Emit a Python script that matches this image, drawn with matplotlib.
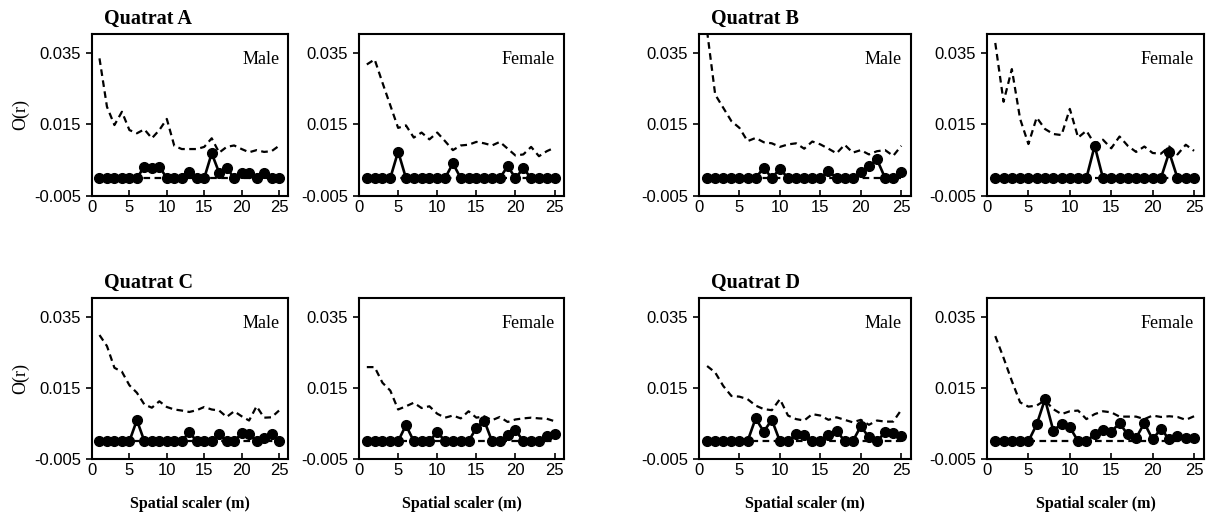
import numpy as np
import matplotlib.pyplot as plt

# spatial scale r (m)
r = np.arange(1, 26)

# observed O(r) (solid line with dots) and upper envelope (dashed)
a_male_obs = [0, 0, 0, 0, 0, 0, 0.0032, 0.0027, 0.0032, 0, 0, 0, 0.0016, 0, 0,
              0.0069, 0.0015, 0.0029, 0, 0.0013, 0.0013, 0, 0.0013, 0, 0]
a_male_up = [0.0334, 0.0199, 0.0148, 0.0185, 0.0134, 0.0125, 0.0136, 0.0111, 0.0134,
             0.0165, 0.0090, 0.0081, 0.0081, 0.0081, 0.0087, 0.0111, 0.0071, 0.0087,
             0.0091, 0.0081, 0.0072, 0.0078, 0.0073, 0.0075, 0.0090]
a_female_obs = [0, 0, 0, 0, 0.0074, 0, 0, 0, 0, 0, 0, 0.0041, 0, 0, 0, 0, 0, 0,
                0.0033, 0, 0.0027, 0, 0, 0, 0]
a_female_up = [0.0317, 0.0331, 0.0266, 0.0203, 0.0140, 0.0147, 0.0113, 0.0127, 0.0108,
               0.0127, 0.0103, 0.0078, 0.0091, 0.0093, 0.0101, 0.0097, 0.0091, 0.0101,
               0.0082, 0.0063, 0.0066, 0.0087, 0.0061, 0.0075, 0.0085]
b_male_obs = [0, 0, 0, 0, 0, 0, 0, 0.0029, 0, 0.0026, 0, 0, 0, 0, 0, 0.0020, 0, 0,
              0, 0.0017, 0.0033, 0.0052, 0, 0, 0.0018]
b_male_up = [0.0410, 0.0233, 0.0196, 0.0159, 0.0140, 0.0103, 0.0112, 0.0100, 0.0097,
             0.0087, 0.0094, 0.0097, 0.0082, 0.0102, 0.0094, 0.0082, 0.0069, 0.0093,
             0.0071, 0.0078, 0.0066, 0.0075, 0.0078, 0.0062, 0.0090]
b_female_obs = [0, 0, 0, 0, 0, 0, 0, 0, 0, 0, 0, 0, 0.0090, 0, 0, 0, 0, 0, 0, 0, 0,
                0.0072, 0, 0, 0]
b_female_up = [0.0377, 0.0213, 0.0304, 0.0165, 0.0095, 0.0169, 0.0137, 0.0123, 0.0120,
               0.0193, 0.0113, 0.0132, 0.0095, 0.0107, 0.0083, 0.0116, 0.0090, 0.0073,
               0.0088, 0.0070, 0.0068, 0.0088, 0.0066, 0.0093, 0.0076]
c_male_obs = [0, 0, 0, 0, 0, 0.0059, 0, 0, 0, 0, 0, 0, 0.0025, 0, 0, 0, 0.0019, 0,
              0, 0.0022, 0.0019, 0, 0.0009, 0.0019, 0]
c_male_up = [0.0298, 0.0267, 0.0206, 0.0195, 0.0157, 0.0136, 0.0103, 0.0094, 0.0112,
             0.0096, 0.0089, 0.0086, 0.0082, 0.0087, 0.0096, 0.0089, 0.0086, 0.0068,
             0.0084, 0.0070, 0.0058, 0.0098, 0.0066, 0.0067, 0.0086]
c_female_obs = [0, 0, 0, 0, 0, 0.0045, 0, 0, 0, 0.0026, 0, 0, 0, 0, 0.0037, 0.0058,
                0, 0, 0.0016, 0.0031, 0, 0, 0, 0.0014, 0.0020]
c_female_up = [0.0208, 0.0208, 0.0164, 0.0142, 0.0089, 0.0098, 0.0108, 0.0093, 0.0098,
               0.0077, 0.0066, 0.0072, 0.0064, 0.0084, 0.0066, 0.0070, 0.0059, 0.0068,
               0.0054, 0.0061, 0.0064, 0.0066, 0.0064, 0.0063, 0.0056]
d_male_obs = [0, 0, 0, 0, 0, 0, 0.0064, 0.0027, 0.0060, 0, 0, 0.0019, 0.0018, 0, 0,
              0.0018, 0.0030, 0, 0, 0.0042, 0.0011, 0, 0.0025, 0.0022, 0.0015]
d_male_up = [0.0211, 0.0193, 0.0155, 0.0127, 0.0125, 0.0118, 0.0100, 0.0090, 0.0087,
             0.0118, 0.0072, 0.0062, 0.0058, 0.0076, 0.0072, 0.0060, 0.0067, 0.0060,
             0.0053, 0.0060, 0.0046, 0.0058, 0.0055, 0.0055, 0.0088]
d_female_obs = [0, 0, 0, 0, 0, 0.0047, 0.0118, 0.0030, 0.0048, 0.0039, 0, 0, 0.0019,
                0.0032, 0.0027, 0.0050, 0.0019, 0.0009, 0.0051, 0.0005, 0.0035, 0.0005,
                0.0015, 0.0010, 0.0010]
d_female_up = [0.0295, 0.0234, 0.0169, 0.0109, 0.0097, 0.0100, 0.0115, 0.0090, 0.0076,
               0.0084, 0.0086, 0.0062, 0.0076, 0.0084, 0.0081, 0.0069, 0.0069, 0.0069,
               0.0062, 0.0072, 0.0068, 0.0070, 0.0068, 0.0060, 0.0070]
# lower envelope (dashed, at zero)
lower = [0, 0, 0, 0, 0, 0, 0, 0, 0, 0, 0, 0, 0, 0, 0, 0, 0, 0, 0, 0, 0, 0, 0, 0, 0]

panels = [
    ("Quatrat A", "Male", a_male_obs, a_male_up),
    (None, "Female", a_female_obs, a_female_up),
    ("Quatrat B", "Male", b_male_obs, b_male_up),
    (None, "Female", b_female_obs, b_female_up),
    ("Quatrat C", "Male", c_male_obs, c_male_up),
    (None, "Female", c_female_obs, c_female_up),
    ("Quatrat D", "Male", d_male_obs, d_male_up),
    (None, "Female", d_female_obs, d_female_up),
]

W, H = 1208, 516
cols = [(92, 288), (359, 564), (699, 911), (987, 1204)]
rows = [(34, 196), (298, 459)]

serif = "Liberation Serif"
sans = "Liberation Sans"

fig = plt.figure(figsize=(W / 100, H / 100), dpi=100)

for i, (title, sex, obs, up) in enumerate(panels):
    row, col = divmod(i, 4)
    left, right = cols[col]
    top, bottom = rows[row]
    ax = fig.add_axes([left / W, 1 - bottom / H, (right - left) / W, (bottom - top) / H])

    ax.plot(r, lower, color="black", lw=1.6, ls=(0, (3, 2)), zorder=2)
    ax.plot(r, up, color="black", lw=1.6, ls=(0, (3, 2)), zorder=2)
    ax.plot(r, obs, color="black", lw=1.9, marker="o", ms=7, zorder=3)

    ax.set_xlim(0, 26.2)
    ax.set_ylim(-0.005, 0.0402)
    ax.set_yticks([-0.005, 0.015, 0.035])
    ax.set_yticklabels(["-0.005", "0.015", "0.035"], fontname=sans, fontsize=12)
    ax.set_xticks([0, 5, 10, 15, 20, 25])
    ax.set_xticklabels(["0", "5", "10", "15", "20", "25"], fontname=sans, fontsize=12)
    ax.tick_params(axis="y", direction="out", length=4, width=1.2, pad=4)
    ax.tick_params(axis="x", direction="in", length=4, width=1.2, pad=3)
    for s in ax.spines.values():
        s.set_linewidth(1.5)

    ax.text(0.955, 0.84, sex, transform=ax.transAxes, ha="right", va="center",
            fontname=serif, fontsize=13)
    if title:
        fig.text((left + 12) / W, 1 - 19 / H - row * (264 / H), title, ha="left",
                 va="center", fontname=serif, fontsize=14.5, fontweight="bold")
    if col == 0:
        ax.set_ylabel("O(r)", fontname=serif, fontsize=13, labelpad=3)
    if row == 1:
        ax.set_xlabel("Spatial scaler (m)", fontname=serif, fontsize=11.5,
                      fontweight="bold", labelpad=13)

fig.savefig("out.png", dpi=100)
